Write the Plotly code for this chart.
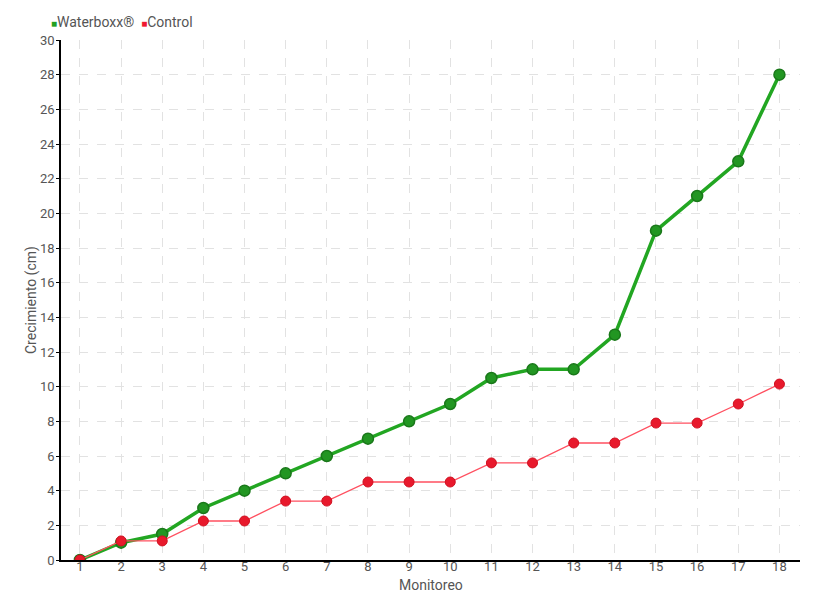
import plotly.graph_objects as go

monitoreo = list(range(1, 19))
waterboxx = [0, 1, 1.5, 3, 4, 5, 6, 7, 8, 9, 10.5, 11, 11, 13, 19, 21, 23, 28]
control = [0, 1.1, 1.1, 2.25, 2.25, 3.4, 3.4, 4.5, 4.5, 4.5, 5.6, 5.6, 6.75, 6.75, 7.9, 7.9, 9.0, 10.15]
y_ticks = list(range(0, 31, 2))
series_names = ["Waterboxx®", "Control"]

FONT = "Roboto, sans-serif"
TXT = "#555555"

W, H = 812, 592
L, R, T, B = 53, 20, 32, 40
PW, PH = W - L - R, H - T - B

def px(xf):
    return (xf - L) / PW

def py(yf):
    return (H - B - yf) / PH

fig = go.Figure()
fig.add_trace(go.Scatter(
    x=monitoreo, y=waterboxx, name=series_names[0], mode="lines+markers",
    line=dict(color="#22a622", width=3.5),
    marker=dict(size=11, color="#229622", line=dict(color="#1a781a", width=1.5)),
))
fig.add_trace(go.Scatter(
    x=monitoreo, y=control, name=series_names[1], mode="lines+markers",
    line=dict(color="#ff5060", width=1.3),
    marker=dict(size=10, color="#e8192c", line=dict(color="#d01020", width=1)),
))

annotations = [
    dict(text=("<span style='color:#22a022;font-size:10px'>■</span>" + series_names[0]
               + "  <span style='color:#f01830;font-size:10px'>■</span>" + series_names[1]),
         xref="paper", yref="paper", x=px(41), y=py(14), xanchor="left", yanchor="middle",
         showarrow=False, font=dict(family=FONT, size=14, color=TXT)),
    dict(text="Crecimiento (cm)", xref="paper", yref="paper", x=px(23), y=0.5,
         xanchor="center", yanchor="middle", textangle=-90, showarrow=False,
         font=dict(family=FONT, size=14, color=TXT)),
    dict(text="Monitoreo", xref="paper", yref="paper", x=0.5, y=py(577),
         xanchor="center", yanchor="middle", showarrow=False,
         font=dict(family=FONT, size=14, color=TXT)),
]

fig.update_layout(
    width=W, height=H,
    margin=dict(l=L, r=R, t=T, b=B, autoexpand=False),
    paper_bgcolor="white", plot_bgcolor="white",
    font=dict(family=FONT, size=14, color=TXT),
    showlegend=False,
    annotations=annotations,
    xaxis=dict(
        range=[0.54, 18.5], tickmode="array", tickvals=monitoreo,
        ticktext=[str(m) for m in monitoreo], automargin=False,
        showgrid=True, gridcolor="#e2e2e2", griddash="dash", gridwidth=1,
        showline=True, linecolor="black", linewidth=1.5,
        ticks="", ticklabelstandoff=-6,
        tickfont=dict(family=FONT, size=13, color=TXT),
        zeroline=False,
    ),
    yaxis=dict(
        range=[0, 30], tickmode="array", tickvals=y_ticks, automargin=False,
        showgrid=True, gridcolor="#e2e2e2", griddash="dash", gridwidth=1,
        showline=True, linecolor="black", linewidth=1.5,
        ticks="outside", ticklen=3, tickcolor="black", ticklabelstandoff=-1,
        tickfont=dict(family=FONT, size=13, color=TXT),
        zeroline=False,
    ),
)

fig.write_html("out.html")
